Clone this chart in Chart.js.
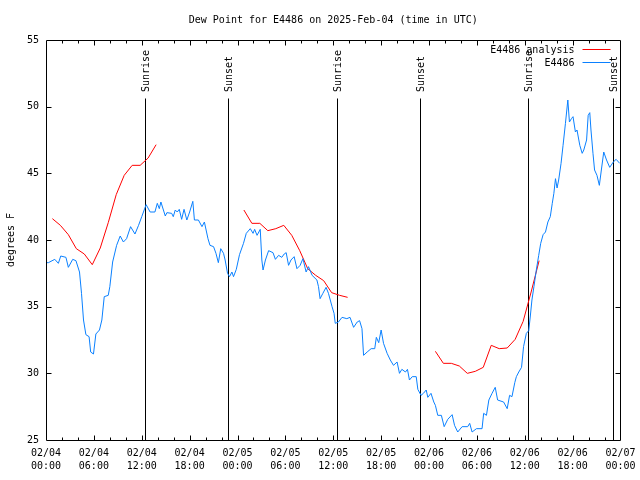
<!DOCTYPE html>
<html>
<head>
<meta charset="utf-8">
<script src="https://cdn.jsdelivr.net/npm/chart.js@4/dist/chart.umd.min.js"></script>
<style>html,body{margin:0;padding:0;background:#fff;}canvas{display:block;}</style>
</head>
<body>
<canvas id="c" width="640" height="480"></canvas>
<script>
// ---- data (x in hours since 02/04 00:00 UTC) ----
const tickLabels = [
  ['02/04','00:00'],['02/04','06:00'],['02/04','12:00'],['02/04','18:00'],
  ['02/05','00:00'],['02/05','06:00'],['02/05','12:00'],['02/05','18:00'],
  ['02/06','00:00'],['02/06','06:00'],['02/06','12:00'],['02/06','18:00'],
  ['02/07','00:00']
];
const obsHours = [
  0.0,0.3,1.1,1.55,1.85,2.5,2.8,3.35,3.75,4.2,4.45,4.7,5.0,5.4,5.6,5.95,6.25,6.7,7.0,7.3,7.8,8.0,8.35,8.85,9.3,9.7,10.1,10.6,11.15,11.6,
  12.0,12.55,13.05,13.65,13.95,14.2,14.4,14.95,15.15,15.75,15.95,16.2,16.45,16.7,17.0,17.3,17.65,18.0,18.4,18.6,19.1,19.55,19.85,20.3,20.55,21.0,21.3,21.6,21.9,22.25,
  22.45,22.75,23.0,23.3,23.5,23.85,24.25,24.75,25.1,25.6,25.95,26.15,26.45,26.85,27.05,27.2,27.5,27.9,28.45,28.75,29.15,29.55,29.85,30.1,30.4,30.7,31.1,31.45,31.85,32.2,
  32.6,32.9,33.35,33.95,34.15,34.35,34.7,35.1,35.4,35.85,36.1,36.25,36.65,37.1,37.7,38.1,38.55,39.0,39.3,39.6,39.8,40.25,40.75,41.2,41.4,41.7,42.0,42.3,42.75,43.15,
  43.55,44.0,44.3,44.6,45.05,45.3,45.55,45.9,46.4,46.6,47.0,47.3,47.65,47.85,48.25,48.6,48.8,49.1,49.55,49.9,50.35,50.9,51.2,51.6,52.15,52.85,53.1,53.4,53.95,54.65,
  54.85,55.2,55.5,55.9,56.3,56.6,57.35,57.8,58.1,58.4,58.75,58.95,59.25,59.6,59.85,60.2,60.5,60.7,60.9,61.15,61.45,61.75,62.0,62.3,62.6,62.9,63.2,63.45,63.65,63.85,
  64.05,64.25,64.55,64.8,65.1,65.4,65.6,65.85,66.05,66.35,66.55,66.9,67.2,67.4,67.75,67.95,68.15,68.3,68.55,68.75,69.05,69.35,69.6,69.9,70.25,70.65,71.1,71.45,71.9
];
const obsDew = [
  38.3,38.3,38.55,38.25,38.8,38.7,37.95,38.55,38.45,37.6,36.0,34.0,32.9,32.75,31.6,31.45,32.95,33.25,34.0,35.75,35.85,36.5,38.35,39.6,40.3,39.85,40.1,41.0,40.45,41.1,
  41.75,42.65,42.1,42.1,42.75,42.35,42.85,41.8,42.05,42.0,41.75,42.25,42.1,42.3,41.55,42.3,41.5,42.1,42.9,41.5,41.5,41.0,41.35,40.1,39.6,39.5,39.0,38.3,39.35,39.0,
  38.5,37.5,37.25,37.6,37.25,37.8,38.9,39.75,40.5,40.85,40.5,40.8,40.35,40.8,38.5,37.75,38.5,39.2,39.05,38.55,38.85,38.7,38.95,39.05,38.1,38.5,38.75,37.85,38.1,38.6,
  37.6,38.0,37.35,37.0,36.5,35.6,36.0,36.45,36.0,35.0,34.5,33.75,33.85,34.2,34.1,34.2,33.45,33.85,33.95,33.35,31.35,31.6,31.85,31.85,32.7,32.3,33.25,32.25,31.5,31.0,
  30.6,30.85,30.0,30.3,30.1,30.3,29.5,29.75,29.75,28.8,28.35,28.5,28.75,28.2,28.5,27.85,27.6,26.85,26.85,26.0,26.55,26.9,26.1,25.6,26.0,26.0,26.25,25.6,25.85,25.85,
  27.0,26.85,28.0,28.5,28.95,28.0,27.85,27.35,28.35,28.25,29.3,29.75,30.1,30.45,32.0,33.0,33.2,34.3,35.5,36.5,37.75,38.85,39.75,40.4,40.6,41.35,41.75,42.75,43.5,44.6,
  43.9,44.5,45.75,47.1,48.75,50.5,48.85,49.1,49.25,48.1,48.25,47.1,46.5,46.75,47.5,49.35,49.55,48.25,46.5,45.25,44.85,44.1,45.25,46.6,46.0,45.45,45.85,46.05,45.75
];
// analysis: three runs, null marks the gaps
const anaHours = [
  0.8,1.8,2.8,3.8,4.8,5.8,6.8,7.8,8.8,9.8,10.8,11.8,12.8,13.8,
  19.0,
  24.8,25.8,26.8,27.8,28.8,29.8,30.8,31.8,32.8,33.8,34.8,35.8,36.8,37.8,
  43.0,
  48.8,49.8,50.8,51.8,52.8,53.8,54.8,55.8,56.8,57.8,58.8,59.8,60.8,61.8
];
const anaDew = [
  41.6,41.1,40.4,39.35,38.95,38.15,39.4,41.3,43.4,44.85,45.6,45.6,46.15,47.15,
  null,
  42.25,41.25,41.25,40.7,40.85,41.1,40.35,39.2,37.85,37.35,36.95,36.05,35.85,35.7,
  null,
  31.65,30.75,30.75,30.55,30.0,30.15,30.45,32.1,31.85,31.9,32.55,33.9,36.1,38.45
];
const sunriseHours = [12.45, 36.45, 60.45];
const sunsetHours = [22.85, 46.87, 71.0];

const FONT = 'DejaVu Sans Mono';
const RED = '#ff0000';
const BLUE = '#0a80ff';

const framePlugin = {
  id: 'frame',
  beforeDatasetsDraw(chart) {
    const {ctx, chartArea: a, scales: {x}} = chart;
    ctx.save();
    ctx.strokeStyle = '#000';
    ctx.lineWidth = 1;
    ctx.fillStyle = '#000';
    ctx.font = '10px "' + FONT + '"';
    const events = [];
    sunriseHours.forEach(h => events.push([h, 'Sunrise']));
    sunsetHours.forEach(h => events.push([h, 'Sunset']));
    events.forEach(([h, name]) => {
      const px = Math.round(x.getPixelForValue(h)) + 0.5;
      ctx.beginPath();
      ctx.moveTo(px, a.top + 58.5);
      ctx.lineTo(px, a.bottom);
      ctx.stroke();
      ctx.save();
      ctx.translate(px + 1, a.top + 52);
      ctx.rotate(-Math.PI / 2);
      ctx.textAlign = 'left';
      ctx.textBaseline = 'middle';
      ctx.fillText(name, 0, 0);
      ctx.restore();
    });
    ctx.restore();
  },
  afterDraw(chart) {
    const {ctx, chartArea: a, scales: {x, y}} = chart;
    ctx.save();
    ctx.strokeStyle = '#000';
    ctx.lineWidth = 1;
    const L = Math.floor(a.left) + 0.5, R = Math.floor(a.right) + 0.5;
    const T = Math.floor(a.top) + 0.5, B = Math.floor(a.bottom) + 0.5;
    ctx.beginPath();
    ctx.rect(L, T, R - L, B - T);
    // x ticks every 2 h, longer every 6 h
    for (let h = 2; h < 72; h += 2) {
      const px = Math.round(x.getPixelForValue(h)) + 0.5;
      const len = (h % 6 === 0) ? 5 : 3;
      ctx.moveTo(px, B); ctx.lineTo(px, B - len);
      ctx.moveTo(px, T); ctx.lineTo(px, T + len);
    }
    for (let v = 30; v < 55; v += 5) {
      const py = Math.round(y.getPixelForValue(v)) + 0.5;
      ctx.moveTo(L, py); ctx.lineTo(L + 5, py);
      ctx.moveTo(R, py); ctx.lineTo(R - 5, py);
    }
    ctx.stroke();
    // legend (inside, top right)
    ctx.font = '10px "' + FONT + '"';
    ctx.textAlign = 'right';
    ctx.textBaseline = 'middle';
    ctx.fillStyle = '#000';
    const rows = [[chart.data.datasets[1].label, RED], [chart.data.datasets[0].label, BLUE]];
    rows.forEach(([txt, col], i) => {
      const ty = a.top + 10 + i * 13;
      ctx.fillText(txt, a.right - 46, ty);
      ctx.strokeStyle = col;
      ctx.beginPath();
      ctx.moveTo(a.right - 38, Math.floor(ty) - 0.5);
      ctx.lineTo(a.right - 10, Math.floor(ty) - 0.5);
      ctx.stroke();
    });
    ctx.restore();
  }
};

new Chart(document.getElementById('c'), {
  type: 'line',
  data: {
    datasets: [
      {
        label: 'E4486',
        data: obsHours.map((h, i) => ({x: h, y: obsDew[i]})),
        borderColor: BLUE, borderWidth: 1, pointRadius: 0, tension: 0, fill: false
      },
      {
        label: 'E4486 analysis',
        data: anaHours.map((h, i) => ({x: h, y: anaDew[i]})),
        borderColor: RED, borderWidth: 1, pointRadius: 0, tension: 0, fill: false,
        spanGaps: false
      }
    ]
  },
  options: {
    responsive: false,
    devicePixelRatio: 1,
    animation: false,
    layout: {padding: {left: 0, right: 19.5, top: 0, bottom: 0}},
    plugins: {
      legend: {display: false},
      tooltip: {enabled: false},
      title: {
        display: true,
        text: 'Dew Point for E4486 on 2025-Feb-04 (time in UTC)',
        color: '#000',
        fullSize: false,
        font: {family: FONT, size: 10, weight: 'normal'},
        padding: {top: 14, bottom: 14}
      }
    },
    scales: {
      x: {
        type: 'linear', min: 0, max: 72,
        grid: {display: false, drawTicks: false},
        border: {display: false},
        ticks: {
          stepSize: 6, autoSkip: false, maxRotation: 0, padding: 7, color: '#000',
          font: {family: FONT, size: 10, lineHeight: 1.3},
          callback: (v) => tickLabels[Math.round(v / 6)]
        },
        afterFit: (s) => { s.height = 40; s.paddingLeft = 0; s.paddingRight = 0; }
      },
      y: {
        type: 'linear', min: 25, max: 55,
        grid: {display: false, drawTicks: false},
        border: {display: false},
        ticks: {stepSize: 5, padding: 7, color: '#000', font: {family: FONT, size: 10}},
        title: {display: true, text: 'degrees F', color: '#000', font: {family: FONT, size: 10}, padding: {top: 5, bottom: 0}},
        afterFit: (s) => { s.width = 46; s.paddingTop = 0; s.paddingBottom = 0; }
      }
    }
  },
  plugins: [framePlugin]
});
</script>
</body>
</html>
